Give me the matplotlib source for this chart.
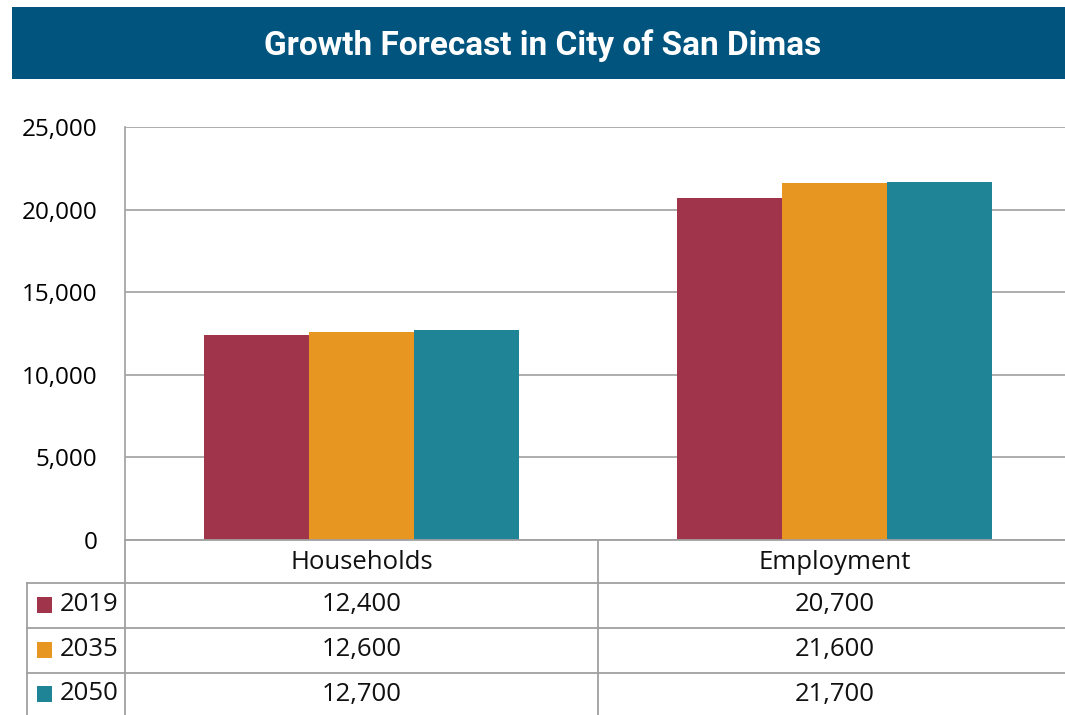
import numpy as np
import matplotlib
matplotlib.use('Agg')
from matplotlib import pyplot as plt
from matplotlib.patches import Rectangle
from matplotlib.ticker import FuncFormatter

# 数据
categories = ['Households', 'Employment']
years = ['2019', '2035', '2050']
values_2019 = [12400, 20700]
values_2035 = [12600, 21600]
values_2050 = [12700, 21700]
colors = ['#a0344a', '#e89622', '#1f8596']
y_ticks = [0, 5000, 10000, 15000, 20000, 25000]
title = 'Growth Forecast in City of San Dimas'

series = [values_2019, values_2035, values_2050]

W, H = 1065, 715
fig = plt.figure(figsize=(W/100, H/100), dpi=100)
fig.patch.set_facecolor('white')

def fx(px):
    return px / W

def fy(py):
    return 1 - py / H

# 标题条
fig.patches.append(Rectangle((fx(12), fy(79)), fx(1065) - fx(12), fy(7) - fy(79),
                             transform=fig.transFigure, facecolor='#00547e',
                             edgecolor='none', zorder=0))
fig.text(fx(543), fy(46), title, color='white', fontsize=24, fontweight='bold',
         family='Roboto', ha='center', va='center')

# 柱状图
ax_l, ax_r, ax_t, ax_b = 125, 1071, 127, 540
ax = fig.add_axes([fx(ax_l), fy(ax_b), fx(ax_r) - fx(ax_l), fy(ax_t) - fy(ax_b)])
x = np.arange(len(categories))
bw = 0.222
for i, (vals, c) in enumerate(zip(series, colors)):
    ax.bar(x + (i - 1) * bw, vals, width=bw, color=c, zorder=3)

ax.set_xlim(-0.5, len(categories) - 0.5)
ax.set_ylim(0, 25000)
ax.set_yticks(y_ticks)
ax.yaxis.set_major_formatter(FuncFormatter(lambda v, p: f'{int(v):,}'))
ax.tick_params(axis='y', length=0, pad=20, labelsize=17.5)
ax.tick_params(axis='x', length=0, labelbottom=False)
for lab in ax.get_yticklabels():
    lab.set_family('Open Sans')
ax.grid(axis='y', color='#a0a0a0', linewidth=1.2, zorder=0)
for s in ['top', 'right', 'bottom']:
    ax.spines[s].set_visible(False)
ax.spines['left'].set_color('#a0a0a0')
ax.spines['left'].set_linewidth(1.2)

# 数据表
tab = fig.add_axes([0, 0, 1, 1], facecolor='none')
tab.set_xlim(0, W)
tab.set_ylim(H, 0)
tab.axis('off')

line_kw = dict(color='#a0a0a0', linewidth=1.3)
rows_y = [540, 583, 628, 673, 720]
left_x = 27
cat_w = (ax_r - ax_l) / len(categories)
cat_edges = [ax_l + i * cat_w for i in range(len(categories) + 1)]

tab.plot([ax_l, W], [rows_y[0], rows_y[0]], **line_kw)
for yy in rows_y[1:4]:
    tab.plot([left_x, W], [yy, yy], **line_kw)
tab.plot([left_x, left_x], [rows_y[1], H], **line_kw)
for ex in cat_edges[:-1]:
    tab.plot([ex, ex], [rows_y[0], H], **line_kw)

txt_kw = dict(fontsize=18.5, family='Open Sans', va='center', color='#111111')
for j, cat in enumerate(categories):
    cx = (cat_edges[j] + cat_edges[j + 1]) / 2
    tab.text(cx, (rows_y[0] + rows_y[1]) / 2 + 1, cat, ha='center', **txt_kw)
    for i, vals in enumerate(series):
        ry = (rows_y[i + 1] + rows_y[i + 2]) / 2 - 1
        if i == 2:
            ry = (rows_y[3] + H) / 2
        tab.text(cx, ry, f'{vals[j]:,}', ha='center', **txt_kw)

for i, (yr, c) in enumerate(zip(years, colors)):
    ry = (rows_y[i + 1] + rows_y[i + 2]) / 2 - 1
    if i == 2:
        ry = (rows_y[3] + H) / 2
    tab.add_patch(Rectangle((37, ry - 8), 15, 16, facecolor=c, edgecolor='none'))
    tab.text(60, ry, yr, ha='left', **txt_kw)

fig.savefig('out.png', dpi=100)
